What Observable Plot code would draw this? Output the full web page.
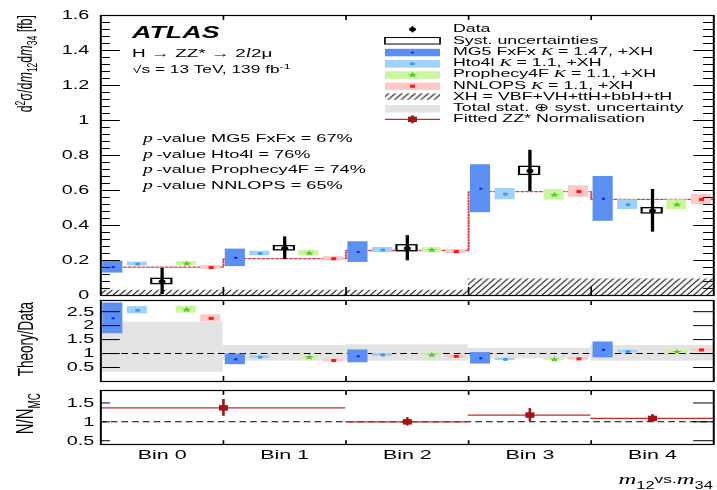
<!DOCTYPE html>
<html>
<head>
<meta charset="utf-8">
<script src="https://cdn.jsdelivr.net/npm/d3@7"></script>
<script src="https://cdn.jsdelivr.net/npm/@observablehq/plot@0.6"></script>
<style>
  html, body { margin: 0; padding: 0; background: #fff; }
  #stage { position: relative; width: 717px; height: 490px; overflow: hidden; background: #fff; }
  #canvas { position: absolute; left: 0; top: 0; height: 490px; transform-origin: 0 0; }
  #canvas > svg { position: absolute; left: 0; overflow: visible; }
</style>
</head>
<body>
<div id="stage"><div id="canvas"></div></div>
<script>
// ---------------- values ----------------
const bins = ["Bin 0", "Bin 1", "Bin 2", "Bin 3", "Bin 4"];

// d2sigma/dm12dm34 [fb]
const dataXs   = [0.080, 0.270, 0.270, 0.712, 0.484];
const dataStat = [0.075, 0.065, 0.072, 0.118, 0.122];
const dataSyst = [0.015, 0.012, 0.017, 0.023, 0.015];

const mg5Xs       = [0.162, 0.215, 0.248, 0.610, 0.552];
const mg5Err      = [0.034, 0.050, 0.059, 0.137, 0.128];
const hto4lXs     = [0.180, 0.240, 0.260, 0.579, 0.519];
const hto4lErr    = [0.011, 0.013, 0.014, 0.032, 0.028];
const prophecyXs  = [0.182, 0.242, 0.260, 0.575, 0.519];
const prophecyErr = [0.012, 0.015, 0.013, 0.030, 0.028];
const nnlopsXs    = [0.160, 0.210, 0.251, 0.594, 0.549];
const nnlopsErr   = [0.011, 0.012, 0.012, 0.033, 0.029];

const xhXs       = [0.030, 0.030, 0.030, 0.095, 0.095];
const zzScaledXs = [0.162, 0.211, 0.257, 0.594, 0.549];

// Theory / Data
const mg5Ratio         = [2.26, 0.79, 0.90, 0.83, 1.13];
const mg5RatioErr      = [0.55, 0.19, 0.23, 0.205, 0.285];
const hto4lRatio       = [2.55, 0.87, 0.95, 0.79, 1.07];
const hto4lRatioErr    = [0.13, 0.05, 0.05, 0.04, 0.05];
const prophecyRatio    = [2.57, 0.87, 0.95, 0.79, 1.06];
const prophecyRatioErr = [0.12, 0.05, 0.05, 0.04, 0.05];
const nnlopsRatio      = [2.26, 0.75, 0.90, 0.81, 1.13];
const nnlopsRatioErr   = [0.13, 0.05, 0.05, 0.05, 0.05];
const totalUncLow  = [0.33, 0.73, 0.73, 0.81, 0.73];
const totalUncHigh = [2.12, 1.29, 1.31, 1.19, 1.29];

// fitted ZZ* normalisation, N/N_MC
const fitStart = [0, 2, 3, 4];
const fitEnd   = [2, 3, 4, 5];
const fitNorm  = [1.37, 1.00, 1.18, 1.09];
const fitErr   = [0.225, 0.11, 0.17, 0.10];

// text
const modelNames = ["MG5 FxFx", "Hto4l", "Prophecy4F", "NNLOPS"];
const kFactors   = ["1.47", "1.1", "1.1", "1.1"];
const pValues    = [67, 76, 74, 65];
const mainTicks  = [0, 0.2, 0.4, 0.6, 0.8, 1, 1.2, 1.4, 1.6];
const ratioTicks = [0.5, 1, 1.5, 2, 2.5];
const normTicks  = [0.5, 1, 1.5];

// ---------------- layout ----------------
const S = 1.65;                 // horizontal stretch of the whole figure
const W = 717 / S;
const ML = 100 / S;
const MR = (717 - 713) / S;
const PX_PER_BIN = (W - ML - MR) / bins.length;
const SANS = "'Liberation Sans', Arial, Helvetica, sans-serif";
const SERIF = "'Liberation Serif', 'Times New Roman', serif";

const canvas = document.getElementById("canvas");
canvas.style.width = W + "px";
canvas.style.transform = `scaleX(${S})`;

const binIdx = d3.range(bins.length);
const slotX = (i, slot) => i + 0.1 + 0.2 * slot;
const HW = 0.082;
const xLen = px => px / PX_PER_BIN;
const fmt = d => String(+d.toFixed(2));

const models = [
  {slot: 0, fill: "#5b8ff1", marker: "#1a1aff", symbol: "circle", r: 1.1,
   xs: mg5Xs, err: mg5Err, ratio: mg5Ratio, ratioErr: mg5RatioErr},
  {slot: 1, fill: "#9fd1fb", marker: "#3b9cf2", symbol: "circle", r: 1.6,
   xs: hto4lXs, err: hto4lErr, ratio: hto4lRatio, ratioErr: hto4lRatioErr},
  {slot: 3, fill: "#cbf6a0", marker: "#5ec42c", symbol: "star", r: 1.9,
   xs: prophecyXs, err: prophecyErr, ratio: prophecyRatio, ratioErr: prophecyRatioErr},
  {slot: 4, fill: "#ffc8c8", marker: "#ff1515", symbol: "square", r: 1.7,
   xs: nnlopsXs, err: nnlopsErr, ratio: nnlopsRatio, ratioErr: nnlopsRatioErr}
];

function boxRows(values, errs, slot) {
  return binIdx.map(i => ({
    x: slotX(i, slot), x1: slotX(i, slot) - HW, x2: slotX(i, slot) + HW,
    y: values[i], y1: values[i] - errs[i], y2: values[i] + errs[i]
  }));
}

function modelMarks(key, errKey) {
  return models.flatMap(m => {
    const rows = boxRows(m[key], m[errKey], m.slot);
    return [
      Plot.rect(rows, {x1: "x1", x2: "x2", y1: "y1", y2: "y2", fill: m.fill}),
      Plot.dot(rows, {x: "x", y: "y", symbol: m.symbol, r: m.r, fill: m.marker, stroke: "none"})
    ];
  });
}

// inward ROOT-style ticks on both vertical sides
function yTickMarks(values, leftPx, rightPx, width = 1) {
  const n = bins.length;
  return [
    Plot.ruleY(values, {y: d => d, x1: 0, x2: xLen(leftPx), stroke: "black", strokeWidth: width}),
    Plot.ruleY(values, {y: d => d, x1: n - xLen(rightPx), x2: n, stroke: "black", strokeWidth: width})
  ];
}

// ticks at bin boundaries, top and bottom of a panel
function xBoundaryTicks(yTop, topLen, yBottom, bottomLen) {
  const edges = d3.range(1, bins.length);
  return [
    Plot.ruleX(edges, {x: d => d, y1: yTop, y2: yTop - topLen, stroke: "black", strokeWidth: 1}),
    Plot.ruleX(edges, {x: d => d, y1: yBottom, y2: yBottom + bottomLen, stroke: "black", strokeWidth: 1})
  ];
}

function yTickLabels(values, dx) {
  return Plot.text(values, {
    x: 0, y: d => d, text: fmt, textAnchor: "end", dx, fontSize: 12,
    fill: "black", ariaLabel: "y-tick-label"
  });
}

// rich text helper: parts carry their own baseline offset b
function richText(parent, parts, attrs) {
  const t = parent.append("text").attr("text-anchor", "start");
  for (const [k, v] of Object.entries(attrs)) t.attr(k, v);
  let prev = 0;
  for (const p of parts) {
    const s = t.append("tspan").text(p.t);
    const b = p.b || 0;
    if (b !== prev) s.attr("dy", b - prev);
    prev = b;
    if (p.size) s.attr("font-size", p.size);
    if (p.italic) s.attr("font-style", "italic");
    if (p.serif) s.attr("font-family", SERIF);
  }
  return t;
}

// ---------------- main panel ----------------
const mainMinor = d3.range(41).map(i => +(i * 0.04).toFixed(2))
  .filter(v => Math.abs(v / 0.2 - Math.round(v / 0.2)) > 1e-6);

const dataRows = binIdx.map(i => ({
  x: slotX(i, 2), y: dataXs[i],
  lo: dataXs[i] - dataStat[i], hi: dataXs[i] + dataStat[i],
  s1: dataXs[i] - dataSyst[i], s2: dataXs[i] + dataSyst[i]
}));
const stepPts = [...binIdx.map(i => ({x: i, y: zzScaledXs[i]})),
                 {x: bins.length, y: zzScaledXs[bins.length - 1]}];

const panelStyle = {fontFamily: SANS, background: "transparent", overflow: "visible"};

const mainPlot = Plot.plot({
  width: W, height: 297, marginTop: 15, marginBottom: 2, marginLeft: ML, marginRight: MR,
  x: {domain: [0, bins.length], axis: null},
  y: {domain: [0, 1.6], axis: null},
  style: panelStyle,
  marks: [
    Plot.rect(binIdx, {x1: i => i, x2: i => i + 1, y1: 0, y2: i => xhXs[i], fill: "url(#xhHatch)"}),
    Plot.line(stepPts, {x: "x", y: "y", curve: "step-after", stroke: "#d04444",
                        strokeWidth: 1.3, strokeDasharray: "1.3,1.5"}),
    ...modelMarks("xs", "err"),
    Plot.rect(dataRows, {x1: d => d.x - HW, x2: d => d.x + HW, y1: "s1", y2: "s2",
                         fill: "none", stroke: "black", strokeWidth: 1.3}),
    Plot.ruleX(dataRows, {x: "x", y1: "lo", y2: "hi", stroke: "black", strokeWidth: 2}),
    Plot.dot(dataRows, {x: "x", y: "y", r: 2.1, fill: "black", stroke: "none"}),
    ...yTickMarks(mainTicks, 12, 12),
    ...yTickMarks(mainMinor, 6, 6),
    ...xBoundaryTicks(1.6, 5 / 175, 0, 8 / 175),
    yTickLabels(mainTicks, -7),
    Plot.frame({stroke: "black", strokeWidth: 1.2})
  ]
});

// ---------------- Theory/Data panel ----------------
const ratioPlot = Plot.plot({
  width: W, height: 86, marginTop: 3, marginBottom: 2, marginLeft: ML, marginRight: MR,
  x: {domain: [0, bins.length], axis: null},
  y: {domain: [0, 2.9], axis: null},
  style: panelStyle,
  marks: [
    Plot.rect(binIdx, {x1: i => i, x2: i => i + 1, y1: i => totalUncLow[i], y2: i => totalUncHigh[i],
                       fill: "#e3e3e3"}),
    Plot.ruleY([1], {stroke: "black", strokeWidth: 1, strokeDasharray: "4,2.5"}),
    ...modelMarks("ratio", "ratioErr"),
    ...yTickMarks(ratioTicks, 12, 12),
    ...xBoundaryTicks(2.9, 0.18, 0, 0.18),
    yTickLabels(ratioTicks, -4),
    Plot.frame({stroke: "black", strokeWidth: 1.2})
  ]
});

// ---------------- N/N_MC panel ----------------
const fitRows = fitStart.map((s, k) => ({
  x1: s, x2: fitEnd[k], xm: (s + fitEnd[k]) / 2,
  y: fitNorm[k], lo: fitNorm[k] - fitErr[k], hi: fitNorm[k] + fitErr[k]
}));

const normPlot = Plot.plot({
  width: W, height: 105, marginTop: 5, marginBottom: 46, marginLeft: ML, marginRight: MR,
  x: {domain: [0, bins.length], axis: null},
  y: {domain: [0.4, 1.83], axis: null},
  style: panelStyle,
  marks: [
    Plot.ruleY([1], {stroke: "black", strokeWidth: 1, strokeDasharray: "4,2.5"}),
    Plot.ruleY(fitRows, {x1: "x1", x2: "x2", y: "y", stroke: "#c62a2a", strokeWidth: 1.3}),
    Plot.ruleX(fitRows, {x: "xm", y1: "lo", y2: "hi", stroke: "#a31414", strokeWidth: 1.6}),
    Plot.dot(fitRows, {x: "xm", y: "y", symbol: "square", r: 3.1, fill: "#a31414", stroke: "none"}),
    ...yTickMarks(normTicks, 6, 12),
    ...xBoundaryTicks(1.83, 0.13, 0.4, 0.1),
    yTickLabels(normTicks, -4),
    Plot.text(bins, {x: (d, i) => i + 0.5, text: d => d, frameAnchor: "bottom", lineAnchor: "bottom",
                     dy: 14.3, fontSize: 13, fill: "black"}),
    Plot.frame({stroke: "black", strokeWidth: 1.2})
  ]
});

// ---------------- assemble ----------------
[[mainPlot, 0], [ratioPlot, 297], [normPlot, 385]].forEach(([svg, top]) => {
  svg.style.top = top + "px";
  svg.style.overflow = "visible";
  svg.style.background = "transparent";
  canvas.appendChild(svg);
  d3.select(svg).selectAll('g[aria-label="y-tick-label"] text').style("letter-spacing", "1px");
});

// hatch for the XH contribution
const main = d3.select(mainPlot);
main.insert("defs", ":first-child").html(
  '<pattern id="xhHatch" patternUnits="userSpaceOnUse" width="4" height="5.8">' +
  '<path d="M-4,5.8L0,0M0,5.8L4,0M4,5.8L8,0" stroke="#000" stroke-width="0.7" fill="none"/></pattern>');

// annotations
const ann = main.append("g").attr("font-family", SANS).attr("fill", "black");
ann.append("text").attr("text-anchor", "start").attr("x", 80).attr("y", 38.3).attr("font-size", 16.3)
  .attr("font-weight", 700).attr("font-style", "italic").text("ATLAS");
richText(ann, [
  {t: "H \u2192 ZZ* \u2192 2"}, {t: "l", italic: true, serif: true}, {t: "2\u03bc"}
], {x: 80, y: 57.5, "font-size": 11.5});
richText(ann, [
  {t: "\u221as = 13 TeV, 139 fb"}, {t: "-1", size: 7.5, b: -4}
], {x: 80, y: 73.3, "font-size": 10.5});
modelNames.forEach((name, k) => {
  richText(ann, [
    {t: "p", italic: true, serif: true, size: 12}, {t: `\u2009-value ${name} = ${pValues[k]}%`}
  ], {x: 86.7, y: 142.5 + k * 15.5, "font-size": 11});
});

// legend
const leg = main.append("g").attr("font-family", SANS).attr("fill", "black");
const LX0 = 233.3, LX1 = 266.7, LXC = (LX0 + LX1) / 2, LTX = 274.5, LFS = 10.8;
const rowY = k => 32.3 + k * 11.25;
const legendLabel = (k, parts) => richText(leg, parts, {x: LTX, y: rowY(k), "font-size": LFS});

// Data
leg.append("line").attr("x1", LXC).attr("x2", LXC).attr("y1", rowY(0) - 6).attr("y2", rowY(0))
  .attr("stroke", "black").attr("stroke-width", 1.4);
leg.append("circle").attr("cx", LXC).attr("cy", rowY(0) - 3).attr("r", 2.1);
legendLabel(0, [{t: "Data"}]);
// Syst. uncertainties
leg.append("rect").attr("x", LX0).attr("y", rowY(1) - 6).attr("width", LX1 - LX0).attr("height", 6.5)
  .attr("fill", "none").attr("stroke", "black").attr("stroke-width", 1);
legendLabel(1, [{t: "Syst. uncertainties"}]);
// models
models.forEach((m, k) => {
  const y = rowY(k + 2);
  leg.append("rect").attr("x", LX0).attr("y", y - 6).attr("width", LX1 - LX0).attr("height", 7.5)
    .attr("fill", m.fill);
  const sym = d3.symbol(
    m.symbol === "star" ? d3.symbolStar : m.symbol === "square" ? d3.symbolSquare : d3.symbolCircle,
    Math.PI * m.r * m.r);
  leg.append("path").attr("d", sym()).attr("transform", `translate(${LXC},${y - 2.3})`).attr("fill", m.marker);
  legendLabel(k + 2, [
    {t: modelNames[k] + " "}, {t: "K", italic: true, serif: true, size: 11},
    {t: ` = ${kFactors[k]}, +XH`}
  ]);
});
// XH hatch
leg.append("rect").attr("x", LX0).attr("y", rowY(6) - 6.5).attr("width", LX1 - LX0).attr("height", 6.5)
  .attr("fill", "url(#xhHatch)");
legendLabel(6, [{t: "XH = VBF+VH+ttH+bbH+tH"}]);
// total uncertainty
leg.append("rect").attr("x", LX0).attr("y", rowY(7) - 6).attr("width", LX1 - LX0).attr("height", 7.5)
  .attr("fill", "#e3e3e3");
legendLabel(7, [{t: "Total stat. \u2295 syst. uncertainty"}]);
// fitted normalisation
leg.append("line").attr("x1", LX0).attr("x2", LX1).attr("y1", rowY(8) - 3).attr("y2", rowY(8) - 3)
  .attr("stroke", "#c62a2a").attr("stroke-width", 1.3);
leg.append("line").attr("x1", LXC).attr("x2", LXC).attr("y1", rowY(8) - 7).attr("y2", rowY(8) + 1)
  .attr("stroke", "#a31414").attr("stroke-width", 1.6);
leg.append("rect").attr("x", LXC - 2.7).attr("y", rowY(8) - 5.7).attr("width", 5.4).attr("height", 5.4)
  .attr("fill", "#a31414");
legendLabel(8, [{t: "Fitted ZZ* Normalisation"}]);

// axis titles
richText(main.append("g").attr("font-family", SANS), [
  {t: "d"}, {t: "2", size: 8.5, b: -4.5}, {t: "\u03c3/d"}, {t: "m", italic: true},
  {t: "12", size: 8.5, b: 3}, {t: "d"}, {t: "m", italic: true}, {t: "34", size: 8.5, b: 3}, {t: " [fb]"}
], {transform: "translate(19.5,15) rotate(-90)", "text-anchor": "end", "font-size": 12.5});

richText(d3.select(ratioPlot).append("g").attr("font-family", SANS), [{t: "Theory/Data"}],
  {transform: "translate(20.2,5) rotate(-90)", "text-anchor": "end", "font-size": 13.5});

const norm = d3.select(normPlot);
richText(norm.append("g").attr("font-family", SANS), [
  {t: "N/N"}, {t: "MC", size: 10, b: 4}
], {transform: "translate(20,8) rotate(-90)", "text-anchor": "end", "font-size": 15});

richText(norm.append("g").attr("font-family", SANS), [
  {t: "m", italic: true, serif: true, size: 15}, {t: "12", size: 10, b: 4.5},
  {t: "vs.", size: 10.5, b: -1}, {t: "m", italic: true, serif: true, size: 15},
  {t: "34", size: 10, b: 4.5}
], {x: W - MR, y: 484.3 - 385, "text-anchor": "end"});
</script>
</body>
</html>
